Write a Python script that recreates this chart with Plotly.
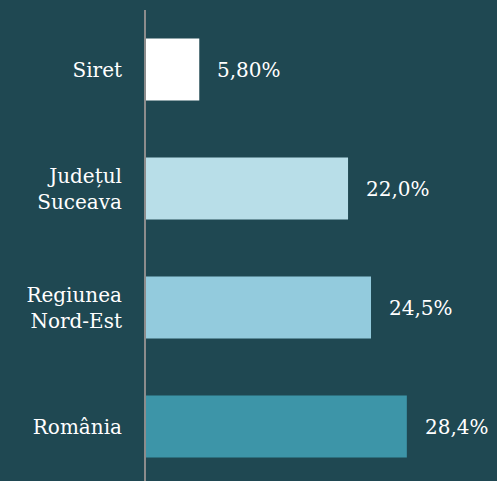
import plotly.graph_objects as go

categories = ["Siret", "Județul<br>Suceava", "Regiunea<br>Nord-Est", "România"]
values = [5.8, 22.0, 24.5, 28.4]
labels = ["5,80%", "22,0%", "24,5%", "28,4%"]
colors = ["#ffffff", "#b8dee8", "#93cbdd", "#3d95a8"]

BG = "#1f4852"
FONT = "DejaVu Serif"

fig = go.Figure()

fig.add_trace(go.Bar(
    x=values, y=categories,
    orientation="h",
    marker=dict(color=colors, line=dict(width=0)),
    width=0.52,
    hoverinfo="skip",
))

for cat, val, lab in zip(categories, values, labels):
    fig.add_annotation(
        x=val, y=cat, text=lab,
        xanchor="left", xshift=16,
        showarrow=False,
        font=dict(family=FONT, size=20, color="#ffffff"),
    )

fig.update_layout(
    width=497, height=481,
    margin=dict(l=146, r=2, t=10, b=0),
    paper_bgcolor=BG,
    plot_bgcolor=BG,
    showlegend=False,
    font=dict(family=FONT, size=20, color="#ffffff"),
    xaxis=dict(range=[0, 38], visible=False, showgrid=False, zeroline=False),
    yaxis=dict(
        type="category",
        range=[3.458, -0.5],
        showgrid=False, zeroline=False,
        showline=True, linecolor="#8c8c8c", linewidth=2,
        ticks="", ticklabelstandoff=18,
        tickfont=dict(family=FONT, size=20, color="#ffffff"),
    ),
)

# drop the default page margin so the figure sits at the window's corner
fig.write_html(
    "out.html",
    config={"displayModeBar": False},
    post_script="document.body.style.margin='0';",
)
